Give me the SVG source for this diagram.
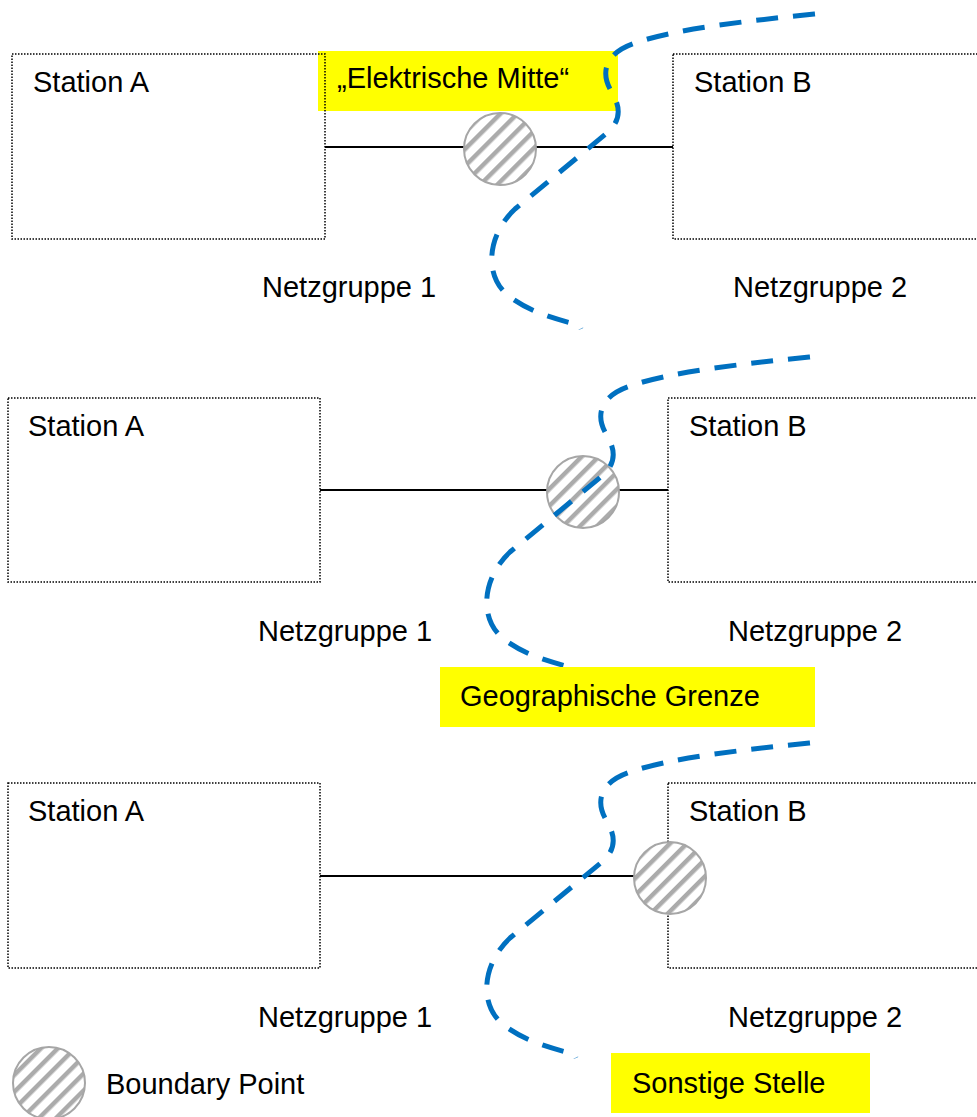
<svg xmlns="http://www.w3.org/2000/svg" xmlns:xlink="http://www.w3.org/1999/xlink" width="977" height="1117" viewBox="0 0 977 1117">
  <style>
    .box { fill: none; stroke: #000000; stroke-width: 1.5; stroke-dasharray: 1.5 1.5; }
    .lbl { font-family: "Liberation Sans", Arial, sans-serif; font-size: 29px; fill: #000000; }
    .note { fill: #ffff00; }
    .wire { stroke: #000000; stroke-width: 2; fill: none; }
    .bp { fill: url(#hatch); stroke: #a6a6a6; stroke-width: 2; }
    .border { fill: none; stroke: #0070c0; stroke-width: 5; stroke-dasharray: 22 15; }
  </style>
  <defs>
    <pattern id="hatch" patternUnits="userSpaceOnUse" width="12" height="12" patternTransform="rotate(45)">
      <rect width="12" height="12" fill="#ffffff"/>
      <rect x="0" y="0" width="4.5" height="12" fill="#ababab"/>
    </pattern>
    <!-- S-shaped boundary line, drawn at its middle-panel position -->
    <path id="sline" d="M 810,357 C 740,364 670,372 630,386 C 600,396 596,415 605,432 C 615,448 618,462 602,476 L 510,552 C 482,578 478,620 505,640 C 525,655 550,662 574,668 L 576,672"/>
  </defs>
  <rect width="977" height="1117" fill="#ffffff"/>

  <!-- Panel 1: electrical middle -->
  <g id="note-elektrische-mitte">
    <rect class="note" x="318" y="51" width="300" height="60"/>
    <text class="lbl" x="337" y="88">„Elektrische Mitte“</text>
  </g>
  <g id="p1-station-a">
    <rect class="box" x="12" y="54" width="313" height="185"/>
    <text class="lbl" x="33" y="92">Station A</text>
  </g>
  <g id="p1-station-b">
    <rect class="box" x="673" y="54" width="320" height="185"/>
    <text class="lbl" x="694" y="92">Station B</text>
  </g>
  <g id="p1-connectors">
    <line class="wire" x1="325" y1="147" x2="673" y2="147"/>
  </g>
  <g id="p1-boundary-point">
    <circle class="bp" cx="500" cy="149" r="36"/>
  </g>
  <g id="p1-border">
    <use xlink:href="#sline" class="border" transform="translate(5,-343)"/>
  </g>
  <text class="lbl" x="262" y="297">Netzgruppe 1</text>
  <text class="lbl" x="733" y="297">Netzgruppe 2</text>

  <!-- Panel 2: geographic border -->
  <g id="p2-station-a">
    <rect class="box" x="8" y="398" width="312" height="184"/>
    <text class="lbl" x="28" y="436">Station A</text>
  </g>
  <g id="p2-station-b">
    <rect class="box" x="668" y="398" width="320" height="184"/>
    <text class="lbl" x="689" y="436">Station B</text>
  </g>
  <g id="p2-connectors">
    <line class="wire" x1="320" y1="490" x2="668" y2="490"/>
  </g>
  <g id="p2-boundary-point">
    <circle class="bp" cx="583" cy="492" r="36"/>
  </g>
  <g id="p2-border">
    <use xlink:href="#sline" class="border"/>
  </g>
  <text class="lbl" x="258" y="641">Netzgruppe 1</text>
  <text class="lbl" x="728" y="641">Netzgruppe 2</text>
  <g id="note-geographische-grenze">
    <rect class="note" x="440" y="667" width="375" height="60"/>
    <text class="lbl" x="460" y="706">Geographische Grenze</text>
  </g>

  <!-- Panel 3: other location -->
  <g id="p3-station-a">
    <rect class="box" x="8" y="783" width="312" height="185"/>
    <text class="lbl" x="28" y="821">Station A</text>
  </g>
  <g id="p3-station-b">
    <rect class="box" x="668" y="783" width="320" height="185"/>
    <text class="lbl" x="689" y="821">Station B</text>
  </g>
  <g id="p3-connectors">
    <line class="wire" x1="320" y1="876" x2="634" y2="876"/>
  </g>
  <g id="p3-boundary-point">
    <circle class="bp" cx="670" cy="878" r="36"/>
  </g>
  <g id="p3-border">
    <use xlink:href="#sline" class="border" transform="translate(0,386)"/>
  </g>
  <text class="lbl" x="258" y="1027">Netzgruppe 1</text>
  <text class="lbl" x="728" y="1027">Netzgruppe 2</text>
  <g id="note-sonstige-stelle">
    <rect class="note" x="611" y="1053" width="259" height="60"/>
    <text class="lbl" x="632" y="1093">Sonstige Stelle</text>
  </g>

  <!-- Legend -->
  <g id="legend">
    <circle class="bp" cx="49" cy="1083" r="36"/>
    <text class="lbl" x="106" y="1094">Boundary Point</text>
  </g>
</svg>
